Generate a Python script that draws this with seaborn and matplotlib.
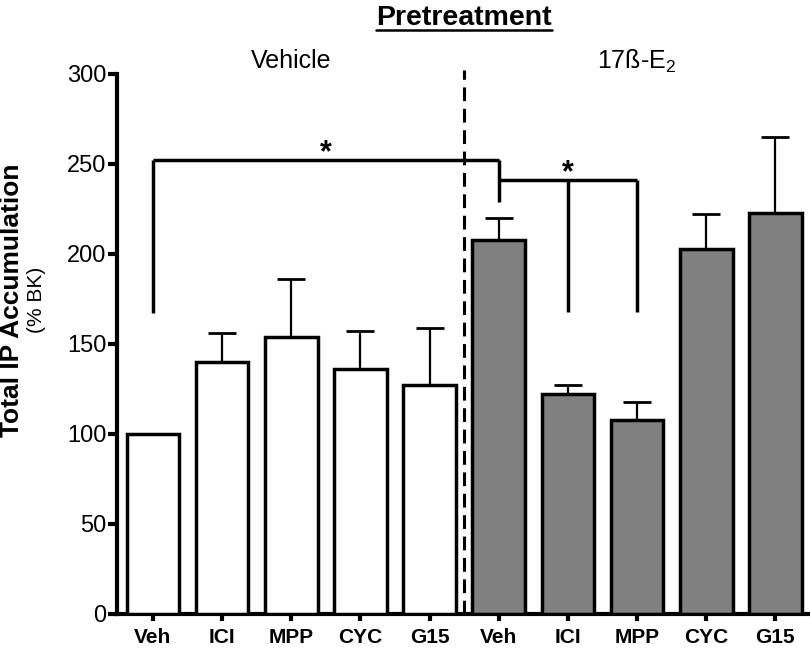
import matplotlib
matplotlib.use("Agg")
import matplotlib.pyplot as plt
import numpy as np
import pandas as pd
import seaborn as sns

# bar data
LABELS   = ["Veh", "ICI", "MPP", "CYC", "G15", "Veh", "ICI", "MPP", "CYC", "G15"]
GROUPS   = ["Vehicle"] * 5 + ["E2"] * 5
MEANS    = [100, 140, 154, 136, 127, 208, 122, 108, 203, 223]
SEM      = [0, 16, 32, 21, 32, 12, 5, 10, 19, 42]
COLORS   = {"Vehicle": "white", "E2": "#808080"}

# significance brackets: (start bar, end bar, bar height, left leg end, right leg ends)
BRACKETS = [
    (0, 5, 252, [167], [229]),
    (5, 7, 241, [], [168, 168]),
]

sns.set_style("white")
plt.rcParams["font.family"] = ["Liberation Sans", "DejaVu Sans"]
plt.rcParams["mathtext.default"] = "regular"
plt.rcParams["text.color"] = "black"
plt.rcParams["xtick.color"] = "black"
plt.rcParams["ytick.color"] = "black"

df = pd.DataFrame({
    "cond": [f"{g}_{l}" for g, l in zip(GROUPS, LABELS)],
    "group": GROUPS,
    "value": MEANS,
})

fig = plt.figure(figsize=(8.1, 6.49), dpi=100)
ax = fig.add_axes([117 / 810, 35 / 649, 693 / 810, 540 / 649])

sns.barplot(
    data=df, x="cond", y="value", hue="group", palette=COLORS,
    dodge=False, width=0.76, edgecolor="black", linewidth=2.5,
    errorbar=None, legend=False, ax=ax, zorder=3,
)

xs = np.arange(len(MEANS))
ax.errorbar(
    xs, MEANS, yerr=[np.zeros(len(SEM)), SEM], fmt="none",
    ecolor="black", elinewidth=1.6, capsize=10, capthick=2, zorder=2,
)

ax.set_xlim(-0.52, 9.5)
ax.set_ylim(0, 300)
ax.set_yticks(range(0, 301, 50))
ax.set_xticks(xs)
ax.set_xticklabels(LABELS, fontsize=15, fontweight="bold")
ax.tick_params(axis="y", labelsize=17, length=6.5, width=3, pad=1, direction="out", left=True)
ax.tick_params(axis="x", length=5, width=3, pad=5, direction="out", bottom=True)
ax.set_xlabel("")
ax.set_ylabel("")
sns.despine(ax=ax)
for side in ["left", "bottom"]:
    ax.spines[side].set_linewidth(3)
    ax.spines[side].set_color("black")

# separator between pretreatments
ax.plot([4.5, 4.5], [0, 302], color="black", lw=2.2, ls=(0, (4.5, 2.5)),
        clip_on=False, zorder=4)

# significance brackets
for x0, x1, h, left_legs, right_legs in BRACKETS:
    kw = dict(color="black", lw=2.5, solid_capstyle="butt", clip_on=False, zorder=5)
    ax.plot([x0, x1], [h, h], **kw)
    for bottom in left_legs:
        ax.plot([x0, x0], [h, bottom], **kw)
    for i, bottom in enumerate(right_legs):
        xl = x1 if len(right_legs) == 1 else x0 + 1 + i
        ax.plot([xl, xl], [h, bottom], **kw)
    ax.text((x0 + x1) / 2, h + 4, "*", ha="center", va="center",
            fontsize=22, fontweight="bold")

# group headers
ax.text(2, 307, "Vehicle", ha="center", va="center", fontsize=18, clip_on=False)
ax.text(7, 307, "17ß-E$_2$", ha="center", va="center", fontsize=18, clip_on=False)
title = fig.text(464 / 810, 1 - 18 / 649, "Pretreatment", ha="center", va="center",
                 fontsize=20.5, fontweight="bold")

fig.text(12 / 810, 1 - 300 / 649, "Total IP Accumulation", rotation=90,
         ha="center", va="center", fontsize=19, fontweight="bold")
fig.text(36 / 810, 1 - 300 / 649, "(% BK)", rotation=90,
         ha="center", va="center", fontsize=15)

# underline the title
fig.canvas.draw()
bb = title.get_window_extent().transformed(fig.transFigure.inverted())
fig.add_artist(plt.Line2D([bb.x0, bb.x1], [bb.y0 + 0.001, bb.y0 + 0.001],
                          transform=fig.transFigure, color="black", lw=1.8))

fig.savefig("out.png", dpi=100)
